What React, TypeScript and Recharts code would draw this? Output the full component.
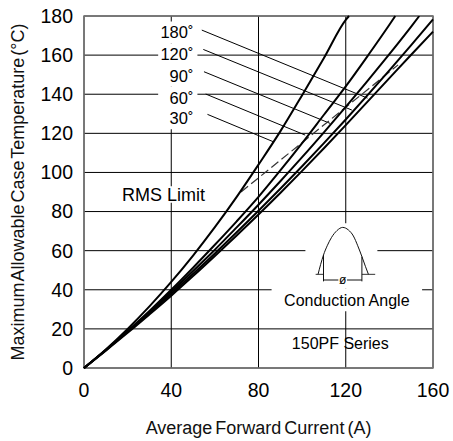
import { LineChart, Line, XAxis, YAxis, CartesianGrid, ReferenceArea, ReferenceLine, ReferenceDot } from 'recharts'

// current (A) vs case temperature (°C)
const CURVE_30 = [[0, 0], [10, 9.5], [20, 20], [30, 31.5], [40, 44], [50, 57.5], [60, 72], [70, 87.5], [80, 104], [90, 121], [100, 139.5], [110, 158.5], [120, 178], [121.5, 180]]
const CURVE_60 = [[0, 0], [10, 9.2], [20, 19], [30, 29.2], [40, 40], [50, 51.3], [60, 63], [70, 75], [80, 87.5], [90, 101], [100, 115], [110, 129.5], [120, 144], [130, 159.5], [140, 175.5], [142.7, 180]]
const CURVE_90 = [[0, 0], [10, 9.2], [20, 18.8], [30, 28.7], [40, 39], [50, 49.6], [60, 60.5], [70, 71.9], [80, 83.5], [90, 95.5], [100, 107.8], [110, 120.5], [120, 133.5], [130, 146.8], [140, 160.5], [150, 174.6], [153.7, 180]]
const CURVE_120 = [[0, 0], [10, 9.1], [20, 18.5], [30, 28.1], [40, 38], [50, 48.2], [60, 58.6], [70, 69.4], [80, 80.4], [90, 91.7], [100, 103.2], [110, 115], [120, 127.1], [130, 139.5], [140, 152.2], [150, 165.1], [160, 178.3]]
const CURVE_180 = [[0, 0], [10, 8.9], [20, 18], [30, 27.4], [40, 37], [50, 47], [60, 57.3], [70, 67.8], [80, 78.5], [90, 89.5], [100, 100.8], [110, 112.4], [120, 124.2], [130, 136.2], [140, 148.2], [150, 160.2], [160, 172]]
const RMS_LIMIT = [[72, 90], [144, 155]]

const X_TICKS = [0, 40, 80, 120, 160]
const Y_TICKS = [0, 20, 40, 60, 80, 100, 120, 140, 160, 180]

// angle labels and leader lines, in chart units
const ANGLE_LABELS = [
  { text: '180˚', y: 171.6, from: [54, 172.8], to: [130, 138] },
  { text: '120˚', y: 160.4, from: [54.7, 162.9], to: [122.8, 131.9] },
  { text: '90˚', y: 149.4, from: [55, 151.5], to: [112.8, 125.1] },
  { text: '60˚', y: 138.2, from: [55.8, 140.1], to: [101.4, 119.1] },
  { text: '30˚', y: 127.7, from: [56.6, 129.7], to: [86.8, 115.7] },
]

// conduction angle sketch
const WAVE = [[107.3, 47.9], [108.5, 53], [109.8, 57.8], [111.5, 62.5], [113.5, 66.8], [116, 70.3], [118.6, 71.9], [121.2, 70.6], [123.5, 67.5], [125.5, 62.5], [127.4, 57], [129, 52], [130.4, 47.9]]

const pts = (a: number[][]) => a.map(([x, y]) => ({ x, y }))

const CURVES = [CURVE_30, CURVE_60, CURVE_90, CURVE_120, CURVE_180]

export default function App() {
  return (
    <div style={{ position: 'absolute', left: 0, top: 0, width: 453, height: 441, background: '#fff', fontFamily: '"Liberation Sans", Arial, sans-serif' }}>
      <LineChart width={453} height={441} margin={{ top: 16, right: 20, bottom: 0, left: 0 }}>
        <CartesianGrid stroke="#000" strokeWidth={1} />
        <XAxis
          type="number"
          dataKey="x"
          domain={[0, 160]}
          ticks={X_TICKS}
          axisLine={false}
          tickLine={false}
          tickSize={0}
          tickMargin={15}
          height={73}
          tick={{ fill: '#000', fontSize: 19.5 }}
          label={{ value: 'Average Forward Current (A)', position: 'insideBottom', offset: 7, fill: '#111', fontSize: 18, style: { wordSpacing: '-2px' } }}
        />
        <YAxis
          type="number"
          domain={[0, 180]}
          ticks={Y_TICKS}
          axisLine={false}
          tickLine={false}
          tickSize={0}
          tickMargin={11}
          width={84}
          tick={{ fill: '#000', fontSize: 19.5 }}
          label={{ value: 'Maximum Allowable Case Temperature (°C)', angle: -90, position: 'insideLeft', offset: 18, fill: '#111', fontSize: 18, style: { textAnchor: 'middle', wordSpacing: '-3px' } }}
        />

        {ANGLE_LABELS.map(l => (
          <ReferenceArea key={l.text} x1={34} x2={52} y1={l.y - 5.6} y2={l.y + 5.6} fill="#fff" fillOpacity={1} stroke="none"
            label={{ value: l.text, position: 'insideRight', offset: 4, fill: '#000', fontSize: 16.5 }} />
        ))}
        <ReferenceArea x1={17} x2={56} y1={84.5} y2={93} fill="#fff" fillOpacity={1} stroke="none"
          label={{ value: 'RMS Limit', position: 'center', fill: '#000', fontSize: 18 }} />
        <ReferenceArea x1={101.5} x2={134.5} y1={40.5} y2={74} fill="#fff" fillOpacity={1} stroke="none" />
        <ReferenceArea x1={86} x2={155} y1={29} y2={40.5} fill="#fff" fillOpacity={1} stroke="none"
          label={{ value: 'Conduction Angle', position: 'center', fill: '#000', fontSize: 16 }} />
        <ReferenceArea x1={100} x2={135} y1={8} y2={17} fill="none" stroke="none"
          label={{ value: '150PF Series', position: 'center', fill: '#000', fontSize: 16 }} />
        <ReferenceArea x1={0} x2={160} y1={0} y2={180} fill="none" stroke="#777" strokeWidth={1.5} />

        {ANGLE_LABELS.map(l => (
          <ReferenceLine key={'ld' + l.text} segment={[{ x: l.from[0], y: l.from[1] }, { x: l.to[0], y: l.to[1] }]} stroke="#000" strokeWidth={1} />
        ))}

        {/* conduction angle sketch */}
        <ReferenceLine segment={[{ x: 106.2, y: 47.9 }, { x: 109.8, y: 47.9 }]} stroke="#333" />
        <ReferenceLine segment={[{ x: 127.4, y: 47.9 }, { x: 133.5, y: 47.9 }]} stroke="#333" />
        <ReferenceLine segment={[{ x: 109.8, y: 57.8 }, { x: 109.8, y: 44.3 }]} stroke="#111" />
        <ReferenceLine segment={[{ x: 127.4, y: 57 }, { x: 127.4, y: 44.3 }]} stroke="#111" />
        <ReferenceLine segment={[{ x: 109.8, y: 45 }, { x: 116.6, y: 45 }]} stroke="#111" />
        <ReferenceLine segment={[{ x: 120.6, y: 45 }, { x: 127.4, y: 45 }]} stroke="#111" />
        <ReferenceDot x={118.6} y={45} r={0} fill="none" stroke="none"
          label={{ value: 'ø', position: 'center', fill: '#000', fontSize: 12 }} />
        <Line data={pts(WAVE)} dataKey="y" type="monotone" stroke="#111" strokeWidth={1} dot={false} isAnimationActive={false} />

        <Line data={pts(RMS_LIMIT)} dataKey="y" type="linear" stroke="#333" strokeWidth={1.2} strokeDasharray="9 4" dot={false} isAnimationActive={false} />
        {CURVES.map((c, i) => (
          <Line key={i} data={pts(c)} dataKey="y" type="monotone" stroke="#000" strokeWidth={2} dot={false} isAnimationActive={false} />
        ))}
      </LineChart>
    </div>
  )
}
